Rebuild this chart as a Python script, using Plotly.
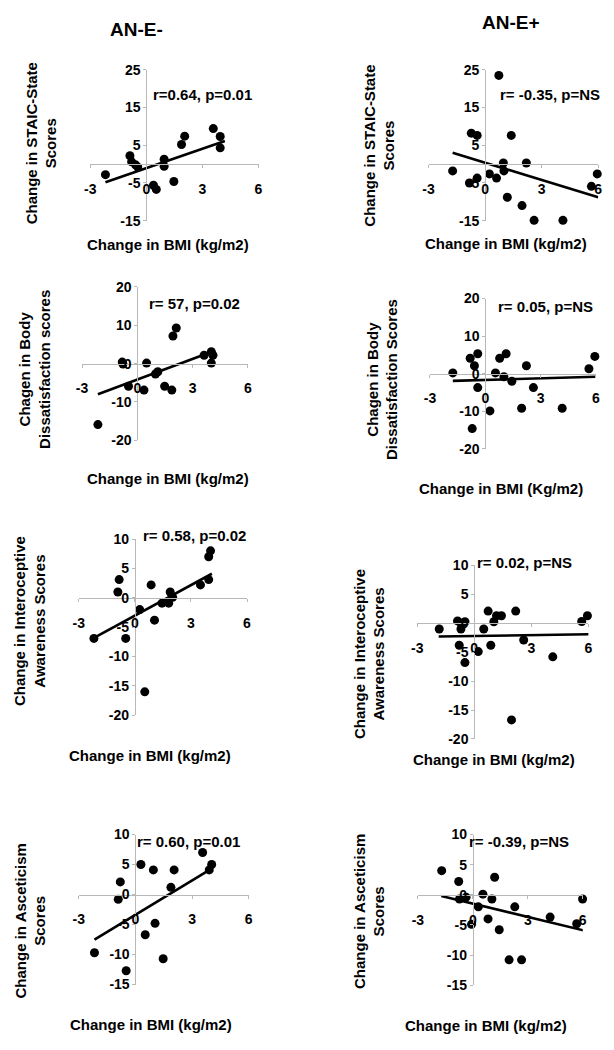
import plotly.graph_objects as go

W, H = 614, 1050
FONT = "Arial, 'Liberation Sans', sans-serif"

# ---------------- data ----------------
x_ticks = [-3, 0, 3, 6]

# AN-E-  STAIC-State
bmi_1 = [-2.19, -0.88, -0.79, -0.58, -0.46, 0.38, 0.53, 0.95, 0.95, 1.47, 1.88, 2.05, 3.58, 3.95, 3.95]
staic_1 = [-2.8, 2.2, 0.6, -0.2, -0.8, -5.6, -6.7, 1.3, -0.6, -4.6, 5.2, 7.4, 9.4, 7.3, 4.3]
fit_x_1 = [-2.19, 4.2]
fit_y_1 = [-4.8, 6.1]

# AN-E+  STAIC-State
bmi_2 = [-1.72, -0.83, -0.73, -0.42, -0.42, 0.23, 0.61, 0.73, 0.97, 1.0, 1.18, 1.39, 1.96, 2.19, 2.6, 4.13, 5.64, 5.95]
staic_2 = [-1.8, -5.0, 8.2, 7.6, -3.7, -2.6, -3.7, 23.5, 0.3, -1.8, -8.8, 7.6, -11.0, 0.3, -14.9, -14.9, -5.9, -2.6]
fit_x_2 = [-1.72, 6.0]
fit_y_2 = [3.0, -8.8]

# AN-E-  Body dissatisfaction
bmi_3 = [-2.14, -0.82, -0.78, -0.48, 0.36, 0.5, 0.98, 1.11, 1.48, 1.87, 1.93, 2.11, 3.62, 4.01, 4.1, 4.01]
bd_3 = [-15.9, 0.4, -0.1, -5.9, -6.9, 0.15, -2.7, -2.1, -5.9, -6.9, 7.2, 9.3, 2.2, 3.1, 2.2, 0.15]
fit_x_3 = [-2.14, 3.93]
fit_y_3 = [-8.0, 2.9]

# AN-E+  Body dissatisfaction
bmi_4 = [-1.76, -0.82, -0.59, -0.71, -0.41, -0.41, 0.25, 0.55, 0.78, 1.13, 1.01, 1.44, 1.97, 2.23, 2.61, 4.17, 5.62, 5.94]
bd_4 = [0.2, 4.1, 2.1, -14.6, 5.3, -3.7, -9.9, 0.2, 4.1, 5.3, -0.8, -2.0, -9.2, 2.1, -3.7, -9.2, 1.3, 4.6]
fit_x_4 = [-1.76, 6.0]
fit_y_4 = [-1.9, -0.8]

# AN-E-  Interoceptive awareness
bmi_5 = [-2.19, -0.84, -0.91, -0.49, 0.26, 0.87, 0.53, 1.05, 1.45, 1.81, 1.89, 2.02, 3.51, 3.95, 3.95, 4.05]
ia_5 = [-6.9, 3.1, 1.0, -6.9, -2.0, 2.2, -16.0, -3.8, -0.9, -0.9, 1.0, 0.1, 2.2, 3.1, 7.0, 8.0]
fit_x_5 = [-2.19, 4.12]
fit_y_5 = [-6.8, 4.1]

# AN-E+  Interoceptive awareness
bmi_6 = [-1.84, -0.88, -0.7, -0.49, -0.7, -0.79, -0.49, 0.21, 0.5, 0.73, 0.87, 1.03, 1.17, 1.43, 2.18, 2.6, 1.96, 4.13, 5.65, 5.95]
ia_6 = [-1.0, 0.4, 0.0, 0.25, -1.0, -3.8, -6.8, -4.9, -1.0, 2.1, -3.8, 0.25, 1.3, 1.3, 2.1, -2.9, -16.7, -5.8, 0.3, 1.3]
fit_x_6 = [-1.87, 6.05]
fit_y_6 = [-2.3, -1.9]

# AN-E-  Asceticism
bmi_7 = [-2.17, -0.8, -0.91, -0.49, 0.29, 0.52, 0.95, 1.04, 1.47, 1.88, 2.05, 3.56, 3.91, 4.04]
asc_7 = [-9.7, 2.1, -0.8, -12.7, 5.0, -6.7, 4.1, -4.8, -10.7, 1.2, 4.1, 7.0, 4.1, 5.0]
fit_x_7 = [-2.17, 4.08]
fit_y_7 = [-7.5, 4.4]

# AN-E+  Asceticism
bmi_8 = [-1.7, -0.77, -0.73, -0.37, -0.07, 0.3, 0.55, 0.83, 1.04, 1.19, 1.44, 1.98, 2.29, 2.66, 4.22, 5.67, 5.99]
asc_8 = [4.0, 2.2, -0.7, -0.4, -4.9, -2.0, 0.1, -4.0, -0.7, 2.9, -5.8, -10.8, -2.0, -10.8, -3.7, -4.8, -0.7]
fit_x_8 = [-1.72, 6.03]
fit_y_8 = [-0.2, -5.9]

y_ticks_staic = [-15, -5, 5, 15, 25]
y_ticks_bd = [-20, -10, 0, 10, 20]
y_ticks_ia = [-20, -15, -10, -5, 0, 5, 10]
y_ticks_asc = [-15, -10, -5, 0, 5, 10]

stats = ["r=0.64, p=0.01", "r= -0.35, p=NS", "r= 57, p=0.02", "r= 0.05, p=NS",
         "r= 0.58, p=0.02", "r= 0.02, p=NS", "r= 0.60, p=0.01", "r= -0.39, p=NS"]
y_titles = ["Change in STAIC-State<br>Scores", "Change in STAIC-State<br>Scores",
            "Chagen in Body<br>Dissatisfaction scores", "Chagen in Body<br>Dissatisfaction Scores",
            "Change in Interoceptive<br>Awareness Scores", "Change in Interoceptive<br>Awareness Scores",
            "Change in Asceticism<br>Scores", "Change in Asceticism<br>Scores"]
x_titles = ["Change in BMI (kg/m2)", "Change in BMI (kg/m2)", "Change in BMI (kg/m2)",
            "Change in BMI (Kg/m2)", "Change in BMI (kg/m2)", "Change in BMI (kg/m2)",
            "Change in BMI (kg/m2)", "Change in BMI (kg/m2)"]
group_titles = ["AN-E-", "AN-E+"]

series = [
    (bmi_1, staic_1, fit_x_1, fit_y_1, y_ticks_staic),
    (bmi_2, staic_2, fit_x_2, fit_y_2, y_ticks_staic),
    (bmi_3, bd_3, fit_x_3, fit_y_3, y_ticks_bd),
    (bmi_4, bd_4, fit_x_4, fit_y_4, y_ticks_bd),
    (bmi_5, ia_5, fit_x_5, fit_y_5, y_ticks_ia),
    (bmi_6, ia_6, fit_x_6, fit_y_6, y_ticks_ia),
    (bmi_7, asc_7, fit_x_7, fit_y_7, y_ticks_asc),
    (bmi_8, asc_8, fit_x_8, fit_y_8, y_ticks_asc),
]

# ---------------- layout geometry (pixels) ----------------
# (x of -3, x of 6, y of top tick, y of bottom tick)
boxes = [
    (85.7, 256.7, 62.7, 216.0),
    (429.5, 602.0, 62.7, 216.0),
    (77.3, 246.0, 283.3, 439.0),
    (431.0, 599.7, 295.0, 447.7),
    (74.0, 245.0, 539.3, 718.3),
    (418.0, 592.0, 566.0, 742.3),
    (74.0, 246.7, 839.3, 991.7),
    (418.7, 586.3, 839.3, 992.3),
]
stat_pos = [(200, 88), (553, 88), (192, 300), (548, 303), (192, 536), (527, 563), (186, 846), (521, 846)]
ytitle_pos = [(36, 137), (380, 140), (29, 367), (382, 377), (24, 623), (369, 656), (25, 927), (369, 917)]
xtitle_pos = [(165, 240), (508, 239), (165, 478), (503, 488), (146, 759), (496, 763), (147, 1032), (488, 1033)]
group_pos = [(133, 22), (513, 15)]

AXIS_GREY = "#b8b8b8"

fig = go.Figure()
layout = dict(
    width=W, height=H, margin=dict(l=0, r=0, t=0, b=0),
    paper_bgcolor="white", plot_bgcolor="white", showlegend=False,
    font=dict(family=FONT, color="black"),
)
annotations = []

def px2fx(px):
    return px / W

def py2fy(py):
    return 1 - py / H

for i, ((xs, ys, fx, fy, yt), (xl, xr, ytop, ybot)) in enumerate(zip(series, boxes), start=1):
    ymin, ymax = min(yt), max(yt)
    xdom = [px2fx(xl), px2fx(xr)]
    ydom = [py2fy(ybot), py2fy(ytop)]
    xpos = ydom[0] + (0 - ymin) / (ymax - ymin) * (ydom[1] - ydom[0])
    ypos = xdom[0] + (0 - (-3)) / 9 * (xdom[1] - xdom[0])
    sfx = "" if i == 1 else str(i)
    layout["xaxis" + sfx] = dict(
        domain=xdom, range=[-3, 6], anchor="free", position=xpos,
        tickvals=x_ticks, ticktext=[str(v) for v in x_ticks],
        showline=True, linecolor=AXIS_GREY, linewidth=1,
        ticks="outside", ticklen=3, tickcolor=AXIS_GREY,
        showgrid=False, zeroline=False, ticklabelstandoff=9,
        tickfont=dict(family=FONT, size=14, color="black", weight="bold"),
    )
    layout["yaxis" + sfx] = dict(
        domain=ydom, range=[ymin, ymax], anchor="free", position=ypos,
        tickvals=yt, ticktext=[str(v) for v in yt],
        showline=True, linecolor=AXIS_GREY, linewidth=1,
        ticks="outside", ticklen=3, tickcolor=AXIS_GREY,
        showgrid=False, zeroline=False,
        tickfont=dict(family=FONT, size=14, color="black", weight="bold"),
    )
    fig.add_trace(go.Scatter(
        x=fx, y=fy, mode="lines", line=dict(color="black", width=2.6),
        xaxis="x" + sfx, yaxis="y" + sfx, cliponaxis=False, hoverinfo="skip"))
    fig.add_trace(go.Scatter(
        x=xs, y=ys, mode="markers", marker=dict(color="black", size=9),
        xaxis="x" + sfx, yaxis="y" + sfx, cliponaxis=False))

    sx, sy = stat_pos[i - 1]
    annotations.append(dict(x=px2fx(sx), y=py2fy(sy), xref="paper", yref="paper",
                            text=stats[i - 1], showarrow=False, xanchor="center", yanchor="middle",
                            font=dict(family=FONT, size=15, color="black", weight="bold")))
    tx, ty = ytitle_pos[i - 1]
    annotations.append(dict(x=px2fx(tx), y=py2fy(ty), xref="paper", yref="paper",
                            text=y_titles[i - 1], showarrow=False, textangle=-90,
                            xanchor="center", yanchor="middle",
                            font=dict(family=FONT, size=15, color="black", weight="bold")))
    bx, by = xtitle_pos[i - 1]
    annotations.append(dict(x=px2fx(bx), y=py2fy(by), xref="paper", yref="paper",
                            text=x_titles[i - 1], showarrow=False, xanchor="center", yanchor="middle",
                            font=dict(family=FONT, size=15, color="black", weight="bold")))

for t, (gx, gy) in zip(group_titles, group_pos):
    annotations.append(dict(x=px2fx(gx), y=py2fy(gy), xref="paper", yref="paper",
                            text=t, showarrow=False, xanchor="center", yanchor="middle",
                            font=dict(family=FONT, size=19, color="black", weight="bold")))

layout["annotations"] = annotations
fig.update_layout(**layout)
fig.write_html(
    "out.html",
    config={"displayModeBar": False},
    post_script="document.body.style.margin='0';document.body.style.overflow='hidden';",
)
